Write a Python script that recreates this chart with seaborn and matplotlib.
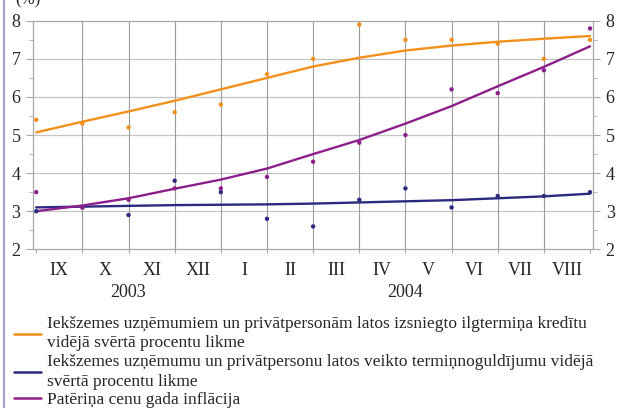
import numpy as np
import pandas as pd
import matplotlib
matplotlib.use('Agg')
import matplotlib.pyplot as plt
from matplotlib.lines import Line2D
from matplotlib.ticker import MultipleLocator, FixedLocator
import seaborn as sns

# month boundaries 0..12 (Aug 2003 .. Aug 2004)
months = ['IX', 'X', 'XI', 'XII', 'I', 'II', 'III', 'IV', 'V', 'VI', 'VII', 'VIII']
idx = list(range(13))

credit = [5.4, 5.3, 5.2, 5.6, 5.8, 6.6, 7.0, 7.9, 7.5, 7.5, 7.4, 7.0, 7.5]
deposit = [3.0, 3.1, 2.9, 3.8, 3.5, 2.8, 2.6, 3.3, 3.6, 3.1, 3.4, 3.4, 3.5]
inflation = [3.5, 3.1, 3.3, 3.6, 3.6, 3.9, 4.3, 4.8, 5.0, 6.2, 6.1, 6.7, 7.8]

# trend lines
credit_trend = [5.07, 5.35, 5.62, 5.9, 6.2, 6.5, 6.8, 7.03, 7.22, 7.35, 7.45, 7.53, 7.6]
deposit_trend = [3.1, 3.12, 3.14, 3.16, 3.17, 3.18, 3.2, 3.23, 3.26, 3.29, 3.34, 3.39, 3.46]
inflation_trend = [3.0, 3.15, 3.34, 3.59, 3.83, 4.12, 4.5, 4.87, 5.3, 5.76, 6.28, 6.79, 7.33]

labels = ['Iekšzemes uzņēmumiem un privātpersonām latos izsniegto ilgtermiņa kredītu\nvidējā svērtā procentu likme',
          'Iekšzemes uzņēmumu un privātpersonu latos veikto termiņnoguldījumu vidējā\nsvērtā procentu likme',
          'Patēriņa cenu gada inflācija']
colors = ['#f3901c', '#2b2a80', '#8c1f8c']

df = pd.DataFrame({
    'x': idx * 3,
    'value': credit + deposit + inflation,
    'trend': credit_trend + deposit_trend + inflation_trend,
    'series': [labels[0]] * 13 + [labels[1]] * 13 + [labels[2]] * 13,
})

sns.set_style('white')
plt.rcParams['font.family'] = ['Liberation Serif', 'DejaVu Serif']

fig = plt.figure(figsize=(6.17, 4.08), dpi=100)
ax = fig.add_axes([0.0535, 0.389, 0.908, 0.560])

pal = dict(zip(labels, colors))
sns.lineplot(data=df, x='x', y='trend', hue='series', palette=pal, linewidth=1.7,
             legend=False, ax=ax, zorder=3)
sns.scatterplot(data=df, x='x', y='value', hue='series', palette=pal, s=10,
                edgecolor='none', legend=False, ax=ax, zorder=4)

ax.set_xlim(-0.07, 12.07)
ax.set_ylim(2, 8)
ax.set_xlabel('')
ax.set_ylabel('')

# grid
for v in range(3, 8):
    ax.axhline(v, color='#c4c4c4', lw=0.9, zorder=1)
for v in range(1, 12):
    ax.axvline(v, color='#9a9a9a', lw=0.8, zorder=1)

for s in ax.spines.values():
    s.set_color('#a8a8a8')
    s.set_linewidth(0.9)

ax.yaxis.set_major_locator(MultipleLocator(1))
ax.yaxis.set_minor_locator(MultipleLocator(0.5))
ax.tick_params(axis='y', which='both', left=True, right=True, labelleft=True,
               labelright=True, direction='out', color='#a8a8a8', labelsize=13)
ax.tick_params(axis='y', which='major', length=5, pad=4)
ax.tick_params(axis='y', which='minor', length=3)

ax.xaxis.set_major_locator(FixedLocator(idx))
ax.xaxis.set_minor_locator(FixedLocator([i + 0.5 for i in range(12)]))
ax.set_xticklabels([], minor=False)
ax.set_xticklabels(months, minor=True)
ax.tick_params(axis='x', which='major', bottom=True, length=3, direction='out',
               color='#a8a8a8')
ax.tick_params(axis='x', which='minor', bottom=True, length=0, pad=9, labelsize=13)

ax.text(2, -0.15, '2003', transform=ax.get_xaxis_transform(), ha='center',
        va='top', fontsize=13)
ax.text(8, -0.15, '2004', transform=ax.get_xaxis_transform(), ha='center',
        va='top', fontsize=13)

fig.text(0.025, 1.0, '(%)', ha='left', va='center', fontsize=12)
fig.add_artist(Line2D([0.007, 0.007], [0, 1], transform=fig.transFigure,
                      color='#a79fcf', lw=1.6))

handles = [Line2D([], [], color=c, lw=1.8) for c in colors]
leg = fig.legend(handles, labels, loc='upper left', bbox_to_anchor=(0.022, 0.226),
                 frameon=False, fontsize=12.5, handlelength=1.6, handletextpad=0.35,
                 labelspacing=0.15, borderaxespad=0, borderpad=0)
for t in leg.get_texts():
    t.set_linespacing(1.3)

fig.savefig('out.png', dpi=100)
